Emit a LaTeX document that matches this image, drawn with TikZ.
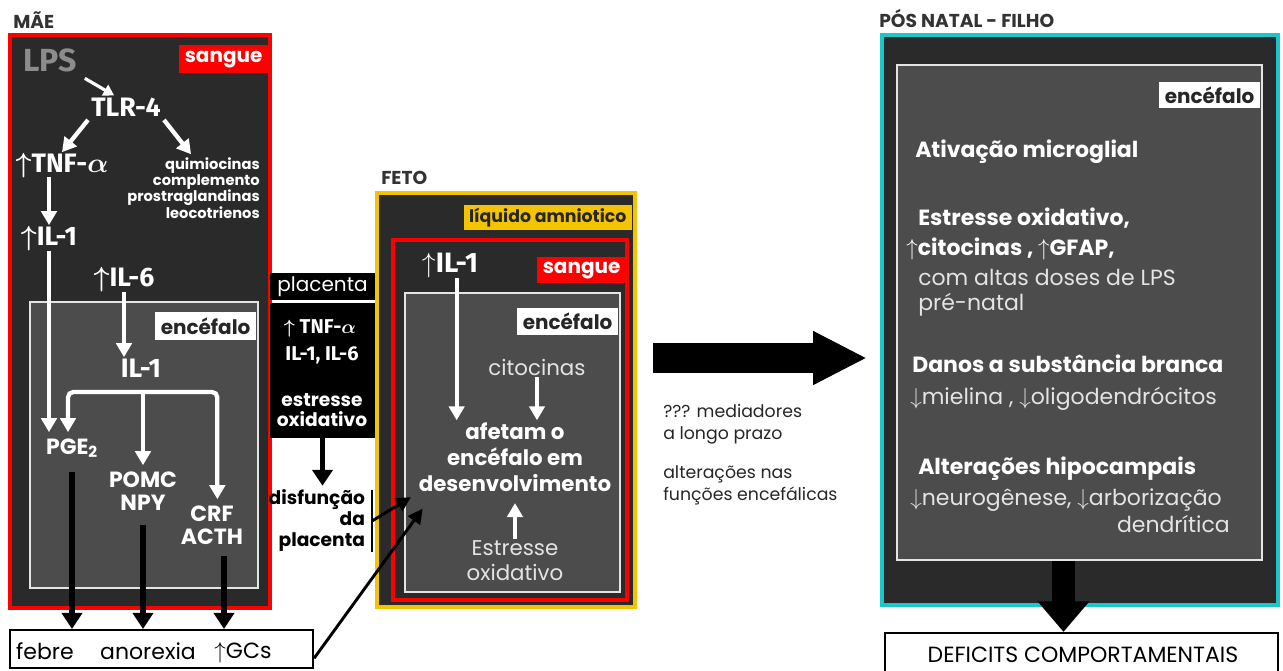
\documentclass[tikz,border=0pt]{standalone}
\usepackage{fontspec}
\setmainfont{Poppins}
\newfontfamily\condfont{Fira Sans}
\usetikzlibrary{arrows.meta,fit}
\definecolor{panelbg}{HTML}{2A2A2A}
\definecolor{brainbg}{HTML}{4C4C4C}
\definecolor{bloodred}{HTML}{FF0000}
\definecolor{amnio}{HTML}{F5C400}
\definecolor{kidteal}{HTML}{1CC7C9}
\definecolor{titlegray}{HTML}{333333}
\definecolor{softwhite}{HTML}{E4E4E4}
\definecolor{lpsgray}{HTML}{8C8C8C}
\definecolor{tagdark}{HTML}{262626}
\newcommand\upmark{\smash{$\uparrow$}}
\newcommand\downmark{\smash{$\downarrow$}}

\begin{document}
\begin{tikzpicture}[x=0.75pt, y=-0.75pt,
    panel/.style={line width=3pt, fill=panelbg, inner sep=0pt},
    brain/.style={draw=softwhite, line width=2.2pt, fill=brainbg, inner sep=0pt},
    tag/.style={anchor=north east, font=\bfseries\fontsize{15}{15}\selectfont,
        minimum height=21pt, inner xsep=4pt, inner ysep=0pt},
    title/.style={anchor=west, text=titlegray, inner sep=0pt,
        font=\bfseries\fontsize{14}{14}\selectfont},
    cyto/.style={text=white, inner sep=1pt,
        font=\condfont\bfseries\boldmath\fontsize{20}{20}\selectfont},
    hormone/.style={text=white, align=center, inner sep=4.5pt,
        font=\bfseries\fontsize{16.5}{17.5}\selectfont},
    effect/.style={text=white, align=center, inner sep=1.5pt,
        font=\bfseries\fontsize{16}{19.5}\selectfont},
    soft/.style={text=softwhite, align=center, inner sep=1.5pt,
        font=\fontsize{16}{18.75}\selectfont},
    plain/.style={text=black, inner sep=0pt, font=\fontsize{16.5}{18}\selectfont},
    note/.style={anchor=west, align=left, text=black!85, inner sep=0pt,
        font=\fontsize{13}{16.5}\selectfont},
    finding/.style={anchor=west, text=white, inner sep=0pt,
        font=\bfseries\fontsize{16.5}{18}\selectfont},
    detail/.style={anchor=west, text=softwhite, inner sep=0pt,
        font=\fontsize{16.5}{18}\selectfont},
    outcome/.style={draw=black, line width=1.6pt, fill=white, inner sep=0pt},
    warrow/.style={draw=white, line width=3.2pt, -{Triangle[length=10.5pt, width=11.5pt]}},
    barrow/.style={draw=black, line width=4pt, -{Triangle[length=12pt, width=15pt]}},
    thinarrow/.style={draw=black, line width=2.2pt, -{Triangle[length=11pt, width=11pt]}},
]
\useasboundingbox (0,0) rectangle (1283,671);

% mae
\node[title] (tmae) at (13,20) {MÃE};
\node[panel, draw=bloodred, fit={(10,35)(270,608)}] (mae) {};
\node[tag, fill=bloodred, text=white] (maeblood) at (268,45) {sangue};
\node[brain, fit={(30,302)(258,588)}] (maebrain) {};
\node[tag, fill=white, text=tagdark] (maebraintag) at (256,312) {encéfalo};

\node[text=lpsgray, font=\condfont\bfseries\fontsize{24}{24}\selectfont] (lps) at (50,60) {LPS};
\node[cyto] (tlr) at (126,107) {TLR-4};
\node[cyto] (tnf) at (62,163) {\upmark TNF-$\alpha$};
\node[text=white, align=right, anchor=east, inner sep=0pt,
    font=\bfseries\fontsize{11}{12.2}\selectfont] (chemo) at (260,188)
    {quimiocinas\\complemento\\prostraglandinas\\leocotrienos};
\node[cyto] (ilA) at (49,236) {\upmark IL-1};
\node[cyto] (il6) at (124,277) {\upmark IL-6};
\node[cyto] (ilB) at (141,368) {IL-1};
\node[hormone] (pge) at (72,448) {PGE\textsubscript{2}};
\node[hormone] (pomc) at (143,491) {POMC\\NPY};
\node[hormone] (crf) at (212,525) {CRF\\ACTH};
\coordinate (fork) at (143,392);

\draw[warrow, line width=2.4pt, -{Triangle[length=8pt, width=9pt]}, shorten <=3pt, shorten >=1pt]
    (lps.south east) -- ([xshift=-8pt]tlr.north);
\draw[warrow, shorten <=2pt] (tlr.south west) -- (tnf.north);
\draw[warrow, shorten <=2pt, shorten >=3pt] (tlr.south east) -- (chemo.north);
\draw[warrow, shorten <=2pt] (tnf.south -| ilA.north) -- (ilA.north);
\draw[warrow, shorten <=3pt] (ilA.south) -- (ilA.south |- pge.north);
\draw[warrow, shorten <=3pt] (il6.south) -- (il6.south |- ilB.north);
\draw[warrow] (fork) -- (fork |- pomc.north);
\draw[warrow, rounded corners=4pt] (fork) -| ([xshift=-3pt]pge.north);
\draw[warrow, rounded corners=4pt] (fork) -| ([xshift=4pt]crf.north);

\node[outcome, fit={(10,630)(313,668)}] (lowbox) {};
\node[plain] (febre) at (45,651) {febre};
\node[plain] (anorexia) at (148,651) {anorexia};
\node[plain] (gcs) at (243,651) {\upmark GCs};

\draw[barrow, shorten <=6pt] (pge.south) -- (pge.south |- lowbox.north);
\draw[barrow, shorten <=6pt] (pomc.south) -- (pomc.south |- lowbox.north);
\draw[barrow, shorten <=4pt] ([xshift=9pt]crf.south) -- ([xshift=9pt]crf.south |- lowbox.north);

% placenta
\node[fill=black, inner sep=0pt, fit={(270,273)(375,300)}] (placlabel) {};
\node[text=white, font=\fontsize{15}{15}\selectfont] (placname) at (placlabel) {placenta};
\node[fill=black, inner sep=0pt, fit={(270,303)(375,438)}] (placbody) {};
\node[cyto, font=\condfont\bfseries\boldmath\fontsize{15}{15}\selectfont] (ptnf) at (320,327) {\upmark\ TNF-$\alpha$};
\node[cyto, font=\condfont\bfseries\fontsize{15}{15}\selectfont] (pil) at (322,355) {IL-1, IL-6};
\node[hormone, inner sep=1pt, font=\bfseries\fontsize{14}{15}\selectfont] (pox) at (322,410) {estresse\\oxidativo};
\node[align=right, anchor=east, inner xsep=5pt, inner ysep=0pt,
    font=\bfseries\fontsize{14}{15.75}\selectfont] (disf) at (372,521) {disfunção\\da\\placenta};
\draw[barrow, shorten >=3pt] (placbody.south) -- (placbody.south |- disf.north);
\draw[line width=2pt] (disf.north east) -- (disf.south east);

% feto
\node[title] (tfeto) at (381,178) {FETO};
\node[panel, draw=amnio, fit={(377,193)(635,607)}] (feto) {};
\node[tag, fill=amnio, text=tagdark, minimum height=18.75pt,
    font=\bfseries\fontsize{13}{13}\selectfont] (amniotag) at (632,205) {líquido amniotico};
\node[panel, draw=bloodred, fit={(393,240)(627,600)}] (fetoblood) {};
\node[tag, fill=bloodred, text=white, minimum height=19.5pt] (fetobloodtag) at (626,257) {sangue};
\node[brain, fit={(405,293)(620,592)}] (fetobrain) {};
\node[tag, fill=white, text=tagdark, minimum height=20pt] (fetobraintag) at (618,308) {encéfalo};

\node[cyto, font=\condfont\bfseries\fontsize{21}{21}\selectfont] (fil) at (450,263) {\upmark IL-1};
\node[soft] (citoc) at (537,367) {citocinas};
\node[effect] (afetam) at (515,457) {afetam o\\encéfalo em\\desenvolvimento};
\node[soft] (festr) at (515,561) {Estresse\\oxidativo};

\draw[warrow, shorten <=3pt] ([xshift=5pt]fil.south) -- ([xshift=5pt]fil.south |- afetam.north);
\draw[warrow] (citoc.south) -- (citoc.south |- afetam.north);
\draw[warrow, shorten >=7pt] (festr.north) -- (festr.north |- afetam.south);

\draw[thinarrow, shorten >=5pt] (disf.east) -- (afetam.south west);
\draw[thinarrow] ([yshift=-7pt]lowbox.east) -- ([shift={(6,15)}]afetam.south west);

% passagem
\coordinate (bigfrom) at (653,358);
\coordinate (bigto) at (867,358);
\draw[line width=22.5pt, -{Triangle[length=40.5pt, width=37.5pt]}] (bigfrom) -- (bigto);
\node[note] (mediad) at (663,424) {??? mediadores\\a longo prazo};
\node[note] (alter) at (663,485) {alterações nas\\funções encefálicas};

% filho
\node[title] (tfilho) at (879,18) {PÓS NATAL - FILHO};
\node[panel, draw=kidteal, fit={(882,35)(1278,605)}] (filho) {};
\node[brain, fit={(897,65)(1262,560)}] (filhobrain) {};
\node[tag, fill=white, text=tagdark, minimum height=19pt] (filhobraintag) at (1260,82) {encéfalo};

\node[finding] (microg) at (915,152) {Ativação microglial};
\node[finding] (oxid) at (918,218) {Estresse oxidativo,};
\node[finding] (gfap) at (906,248) {\upmark citocinas , \upmark GFAP,};
\node[detail] (lpsdose) at (918,277) {com altas doses de LPS};
\node[detail] (prenat) at (918,305) {pré-natal};
\node[finding] (whitem) at (912,364) {Danos a substância branca};
\node[detail] (mielin) at (910,399) {\downmark mielina , \downmark oligodendrócitos};
\node[finding] (hipo) at (918,469) {Alterações hipocampais};
\node[detail] (neuro) at (910,500) {\downmark neurogênese, \downmark arborização};
\node[detail, anchor=east] (dendr) at (1230,524) {dendrítica};

\node[outcome, fit={(885,633)(1278,680)}] (deficits) {};
\node[plain] (deftext) at (1083,655) {DEFICITS COMPORTAMENTAIS};
\draw[line width=17pt, -{Triangle[length=23pt, width=37.5pt]}]
    ([xshift=-12pt]filhobrain.south) -- ([xshift=-12pt]filhobrain.south |- deficits.north);
\end{tikzpicture}
\end{document}
